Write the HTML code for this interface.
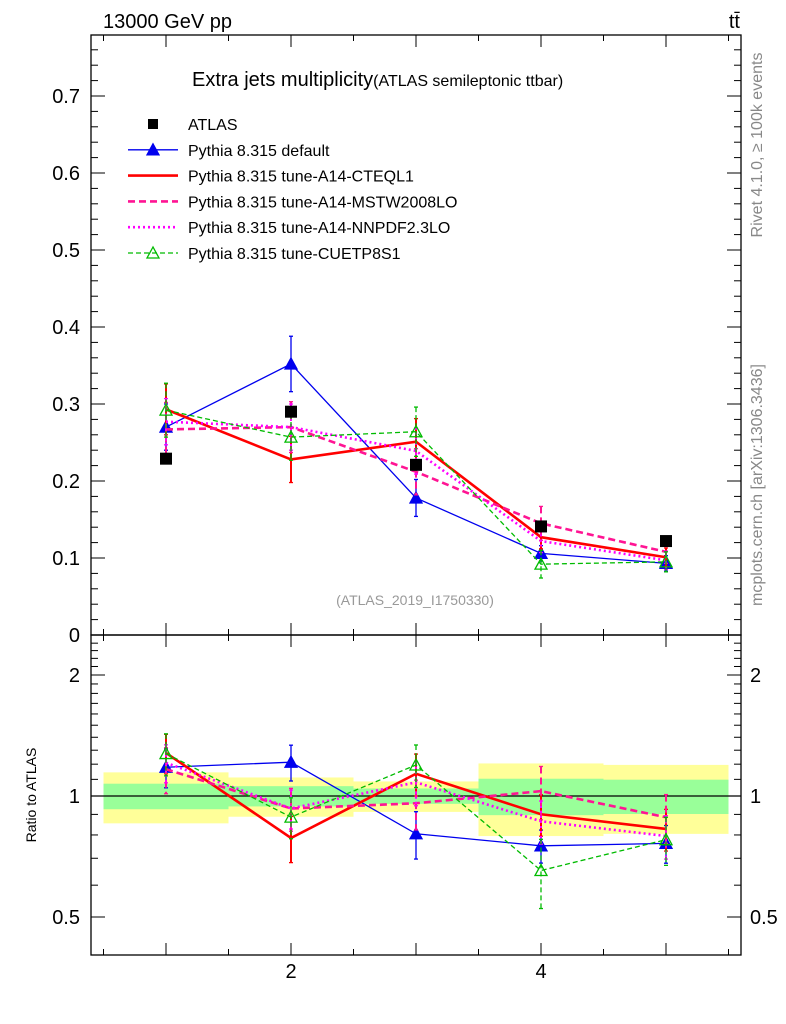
<!DOCTYPE html>
<html><head><meta charset="utf-8"><style>
body{margin:0;background:#fff;}
svg{display:block;font-family:"Liberation Sans",sans-serif;}
</style></head><body>
<svg id="c" width="786" height="1024" viewBox="0 0 786 1024" xmlns="http://www.w3.org/2000/svg">
<text x="103" y="28" font-size="20">13000 GeV pp</text>
<text x="740" y="28" font-size="20" text-anchor="end">tt̄</text>
<text x="192" y="86" font-size="20">Extra jets multiplicity<tspan font-size="16">(ATLAS semileptonic ttbar)</tspan></text>
<text x="415" y="605" font-size="14" fill="#999" text-anchor="middle">(ATLAS_2019_I1750330)</text>
<text transform="translate(762,145) rotate(-90)" font-size="16" fill="#888" text-anchor="middle">Rivet 4.1.0, ≥ 100k events</text>
<text transform="translate(762,485) rotate(-90)" font-size="16" fill="#888" text-anchor="middle">mcplots.cern.ch [arXiv:1306.3436]</text>
<text transform="translate(36,795) rotate(-90)" font-size="14" text-anchor="middle">Ratio to ATLAS</text>
<g id="g"></g>
</svg>
<script>
const categories=[1,2,3,4,5];
const dataVals=[0.229,0.290,0.221,0.141,0.122];
const yellowRel=[0.145,0.112,0.087,0.205,0.195];
const greenRel=[0.073,0.058,0.044,0.104,0.098];
const blueVals=[0.270,0.352,0.178,0.106,0.093];
const blueErr=[0.030,0.036,0.024,0.010,0.010];
const redVals=[0.293,0.228,0.251,0.127,0.101];
const redErr=[0.033,0.030,0.030,0.015,0.012];
const magVals=[0.267,0.270,0.212,0.145,0.108];
const magErr=[0.035,0.033,0.030,0.022,0.015];
const dotVals=[0.277,0.270,0.239,0.122,0.097];
const dotErr=[0.030,0.030,0.030,0.015,0.012];
const grnVals=[0.292,0.257,0.264,0.092,0.095];
const grnErr=[0.035,0.030,0.032,0.018,0.013];
const mainTicks=[0,0.1,0.2,0.3,0.4,0.5,0.6,0.7];
const ratioTicks=[0.5,1,2];
const xLabels=[2,4];

const NS="http://www.w3.org/2000/svg";
const G=document.getElementById('g');
const L=91,R=741,T=35,MB=635,RB=955;
const X=v=>166+(v-1)*125;
const Y=v=>635-v*770;
const YR=r=>796-121*Math.log2(r);
function el(t,a,p){const e=document.createElementNS(NS,t);for(const k in a)e.setAttribute(k,a[k]);(p||G).appendChild(e);return e;}

categories.forEach((c,i)=>{
  let r=el('rect',{x:X(c-0.5),y:YR(1+yellowRel[i]),width:125,height:YR(1-yellowRel[i])-YR(1+yellowRel[i]),fill:'#ffff99'});
  
  
  r=el('rect',{x:X(c-0.5),y:YR(1+greenRel[i]),width:125,height:YR(1-greenRel[i])-YR(1+greenRel[i]),fill:'#99ff99'});
  
  
});
el('line',{x1:L,x2:R,y1:YR(1),y2:YR(1),stroke:'#000','stroke-width':1.3});

[[T,MB],[MB,RB]].forEach(([a,b])=>{el('rect',{x:L,y:a,width:R-L,height:b-a,fill:'none',stroke:'#000','stroke-width':1.3});});
for(let v=0;v<=0.78;v+=0.02){const maj=Math.abs(v*10-Math.round(v*10))<1e-6;const y=Y(v);const l=maj?14:7;
  el('line',{x1:L,x2:L+l,y1:y,y2:y,stroke:'#000'});el('line',{x1:R,x2:R-l,y1:y,y2:y,stroke:'#000'});}
mainTicks.forEach(v=>{const t=el('text',{x:80,y:Y(v)+7,'font-size':20,'text-anchor':'end'});t.textContent=String(v);
  
  });
for(let r=0.5;r<=2.45;r+=0.1){const y=YR(r);if(y<MB||y>RB)continue;el('line',{x1:L,x2:L+7,y1:y,y2:y,stroke:'#000'});el('line',{x1:R,x2:R-7,y1:y,y2:y,stroke:'#000'});}
ratioTicks.forEach(r=>{const y=YR(r);el('line',{x1:L,x2:L+14,y1:y,y2:y,stroke:'#000'});el('line',{x1:R,x2:R-14,y1:y,y2:y,stroke:'#000'});
  let t=el('text',{x:80,y:y+7,'font-size':20,'text-anchor':'end'});t.textContent=String(r);
  
  
  t=el('text',{x:750,y:y+7,'font-size':20});t.textContent=String(r);
  
  });
for(let v=0.5;v<=5.5;v+=0.5){const maj=Number.isInteger(v);const l=maj?12:6;const x=X(v);
  [MB,RB].forEach(b=>{el('line',{x1:x,x2:x,y1:b,y2:b-l,stroke:'#000'});});
  [T,MB].forEach(t=>{el('line',{x1:x,x2:x,y1:t,y2:t+l,stroke:'#000'});});}
xLabels.forEach(v=>{const t=el('text',{x:X(v),y:978,'font-size':20,'text-anchor':'middle'});t.textContent=String(v);
  
  });

const series=[
 {n:'default',v:blueVals,e:blueErr,c:'#0000ee',w:1.3,d:'',m:'tri'},
 {n:'cteql1',v:redVals,e:redErr,c:'#ff0000',w:2.6,d:'',m:''},
 {n:'mstw2008lo',v:magVals,e:magErr,c:'#ff1493',w:2.6,d:'7,4',m:''},
 {n:'nnpdf23lo',v:dotVals,e:dotErr,c:'#ff00ff',w:2.6,d:'2,3',m:''},
 {n:'cuetp8s1',v:grnVals,e:grnErr,c:'#00bb00',w:1.3,d:'5,3',m:'otri'}];
function tri(x,y,c,open){const p=`${x},${y-6} ${x-6},${y+5} ${x+6},${y+5}`;return el('polygon',{points:p,fill:open?'none':c,stroke:c,'stroke-width':1.3});}
series.forEach(s=>{
  const main=categories.map((c,i)=>X(c)+','+Y(s.v[i])).join(' ');
  const rat=categories.map((c,i)=>X(c)+','+YR(s.v[i]/dataVals[i])).join(' ');
  let p=el('polyline',{points:main,fill:'none',stroke:s.c,'stroke-width':s.w,'stroke-dasharray':s.d});
  
  
  p=el('polyline',{points:rat,fill:'none',stroke:s.c,'stroke-width':s.w,'stroke-dasharray':s.d});
  
  
  categories.forEach((c,i)=>{const x=X(c);
    const pairs=[[Y(s.v[i]+s.e[i]),Y(s.v[i]-s.e[i]),Y(s.v[i])],[YR((s.v[i]+s.e[i])/dataVals[i]),YR((s.v[i]-s.e[i])/dataVals[i]),YR(s.v[i]/dataVals[i])]];
    pairs.forEach(([a,b,m])=>{
      el('line',{x1:x,x2:x,y1:a,y2:b,stroke:s.c,'stroke-width':s.w>2?2:1.3,'stroke-dasharray':s.d});
      el('line',{x1:x-2,x2:x+2,y1:a,y2:a,stroke:s.c,'stroke-width':1.3});
      el('line',{x1:x-2,x2:x+2,y1:b,y2:b,stroke:s.c,'stroke-width':1.3});
      if(s.m)tri(x,m,s.c,s.m==='otri');
    });
  });
});
categories.forEach((c,i)=>{const r=el('rect',{x:X(c)-6,y:Y(dataVals[i])-6,width:12,height:12,fill:'#000'});
  
  });

const leg=[['ATLAS',null],['Pythia 8.315 default',series[0]],['Pythia 8.315 tune-A14-CTEQL1',series[1]],['Pythia 8.315 tune-A14-MSTW2008LO',series[2]],['Pythia 8.315 tune-A14-NNPDF2.3LO',series[3]],['Pythia 8.315 tune-CUETP8S1',series[4]]];
leg.forEach(([txt,s],k)=>{const y=124+k*25.8;
  if(!s){el('rect',{x:148,y:y-5,width:10,height:10,fill:'#000'});}
  else{el('line',{x1:128,x2:178,y1:y,y2:y,stroke:s.c,'stroke-width':s.w,'stroke-dasharray':s.d});if(s.m)tri(153,y,s.c,s.m==='otri');}
  const t=el('text',{x:188,y:y+6,'font-size':16});t.textContent=txt;
  
  });
</script>
</body></html>
